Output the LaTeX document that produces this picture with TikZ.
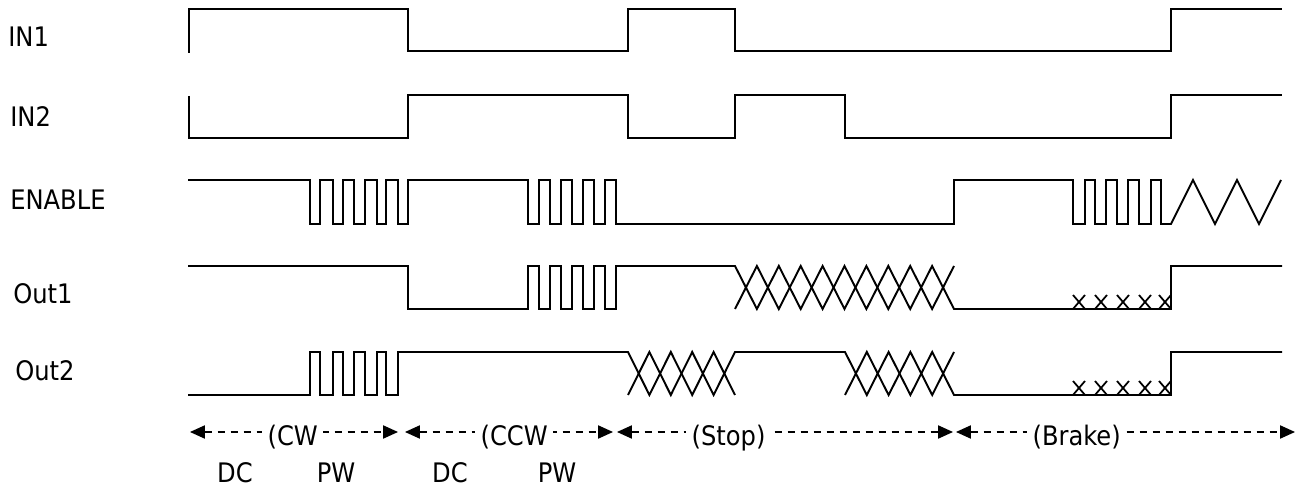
\documentclass[tikz,border=0pt]{standalone}
\usepackage{fontspec}
\setmainfont{DejaVu Sans Condensed}
\usetikzlibrary{arrows.meta}

\begin{document}
\begin{tikzpicture}[x=0.02cm, y=-0.02cm,
    wave/.style={line width=1.1pt, line join=miter},
    tick/.style={line width=1pt},
    signame/.style={anchor=base west, inner sep=0pt, font=\fontsize{15.3}{18}\selectfont},
    phasenote/.style={anchor=base, inner sep=0pt, font=\fontsize{15.3}{18}\selectfont},
    modelabel/.style={anchor=base west, fill=white, inner xsep=3pt, inner ysep=1pt, font=\fontsize{15.3}{18}\selectfont},
    spanarrow/.style={line width=0.8pt, dash pattern=on 4.2pt off 3.2pt, {Triangle[length=8.5pt,width=7.5pt]}-{Triangle[length=8.5pt,width=7.5pt]}}
]
\useasboundingbox (0,0) rectangle (1303,489);

% signal names
\node[signame] (in1) at (8,47) {IN1};
\node[signame] (in2) at (10,127) {IN2};
\node[signame] (en) at (10,210) {ENABLE};
\node[signame] (out1) at (13,304) {Out1};
\node[signame] (out2) at (15,381) {Out2};

% IN1 / IN2
\draw[wave] (189,53) |- (408,9) |- (628,51) |- (735,9) |- (1171,51) |- (1282,9);
\draw[wave] (189,96) |- (408,138) |- (628,95) |- (735,138) |- (845,95) |- (1171,138) |- (1282,95);

% ENABLE
\draw[wave] (188,180)
  \foreach \a/\b in {310/320,333/343,354/365,377/386,398/408,528/539,550/561,572/583,594/605}
    { -- (\a,180) -- (\a,224) -- (\b,224) -- (\b,180) }
  -- (616,180) -- (616,224) -- (954,224) -- (954,180)
  \foreach \a/\b in {1073/1085,1095/1106,1117/1128,1139/1151}
    { -- (\a,180) -- (\a,224) -- (\b,224) -- (\b,180) }
  -- (1161,180) -- (1161,224) -- (1171,224)
  \foreach \k in {1,...,5} { -- ++(22,{ifthenelse(isodd(\k),-44,44)}) };

% Out1
\draw[wave] (188,266) -- (408,266) -- (408,309) -- (528,309)
  \foreach \a/\b in {528/539,550/561,572/583,594/605}
    { -- (\a,309) -- (\a,266) -- (\b,266) -- (\b,309) }
  -- (616,309) -- (616,266) -- (735,266)
  \foreach \k in {1,...,10} { -- ++(21.9,{ifthenelse(isodd(\k),43,-43)}) };
\draw[wave] (735,309)
  \foreach \k in {1,...,10} { -- ++(21.9,{ifthenelse(isodd(\k),-43,43)}) }
  -- (1171,309) -- (1171,266) -- (1282,266);
\foreach \a in {1073,1095,1117,1139,1159}
  \draw[tick] (\a,295) -- ++(12,14) (\a,309) -- ++(12,-14);

% Out2
\draw[wave] (188,395)
  \foreach \a/\b in {310/320,333/343,354/365,377/386}
    { -- (\a,395) -- (\a,352) -- (\b,352) -- (\b,395) }
  -- (398,395) -- (398,352) -- (628,352)
  \foreach \k in {1,...,5} { -- ++(21.4,{ifthenelse(isodd(\k),43,-43)}) };
\draw[wave] (628,395)
  \foreach \k in {1,...,5} { -- ++(21.4,{ifthenelse(isodd(\k),-43,43)}) }
  -- (845,352)
  \foreach \k in {1,...,5} { -- ++(21.8,{ifthenelse(isodd(\k),43,-43)}) }
  -- (1171,395) -- (1171,352) -- (1282,352);
\draw[wave] (845,395)
  \foreach \k in {1,...,5} { -- ++(21.8,{ifthenelse(isodd(\k),-43,43)}) };
\foreach \a in {1073,1095,1117,1139,1159}
  \draw[tick] (\a,381) -- ++(12,14) (\a,395) -- ++(12,-14);

% operating modes
\coordinate (cw0) at (190,432);
\coordinate (cw1) at (398,432);
\coordinate (ccw0) at (405,432);
\coordinate (ccw1) at (613,432);
\coordinate (stop0) at (617,432);
\coordinate (stop1) at (953,432);
\coordinate (brake0) at (956,432);
\coordinate (brake1) at (1295,432);

\draw[spanarrow] (cw0) -- (cw1);
\draw[spanarrow] (ccw0) -- (ccw1);
\draw[spanarrow] (stop0) -- (stop1);
\draw[spanarrow] (brake0) -- (brake1);

\node[modelabel] (cw) at (262,446) {(CW};
\node[modelabel] (ccw) at (475,446) {(CCW};
\node[modelabel] (stop) at (686,446) {(Stop)};
\node[modelabel] (brake) at (1027,446) {(Brake)};

\node[phasenote] (dc1) at (235,483) {DC};
\node[phasenote] (pw1) at (336,483) {PW};
\node[phasenote] (dc2) at (450,483) {DC};
\node[phasenote] (pw2) at (557,483) {PW};

\end{tikzpicture}
\end{document}
